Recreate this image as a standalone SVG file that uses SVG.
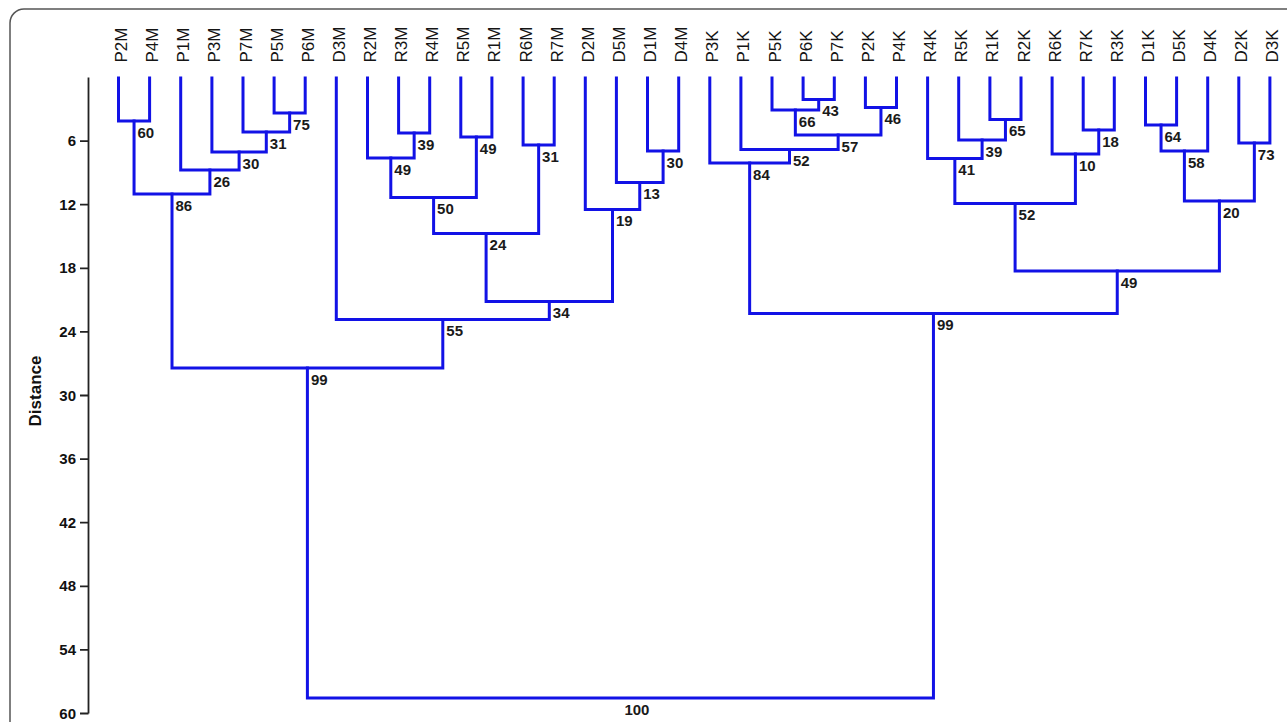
<svg xmlns="http://www.w3.org/2000/svg" width="1287" height="722" viewBox="0 0 1287 722">
<style>
.leaf{font-family:"Liberation Sans",Arial,sans-serif;font-size:17px;fill:#151515}
.bs{font-family:"Liberation Sans",Arial,sans-serif;font-size:15px;font-weight:bold;fill:#1a1a1a}
.tk{font-family:"Liberation Sans",Arial,sans-serif;font-size:15px;font-weight:bold;fill:#111;text-anchor:end}
.br{fill:none;stroke:#1212e6;stroke-width:3;stroke-linejoin:miter;stroke-linecap:square}
.ax{fill:none;stroke:#222;stroke-width:1.8}
</style>
<rect x="0" y="0" width="1287" height="722" fill="#fff"/>
<path d="M10,730 V23 A14,14 0 0 1 24,9 H1295" fill="none" stroke="#555" stroke-width="1.5"/>
<g id="axis">
<path class="ax" d="M88.5,77.5 V713.5 M80,141.1 H88.5 M80,204.7 H88.5 M80,268.3 H88.5 M80,331.9 H88.5 M80,395.5 H88.5 M80,459.1 H88.5 M80,522.7 H88.5 M80,586.3 H88.5 M80,649.9 H88.5 M80,713.5 H88.5"/>
<text class="tk" x="76" y="146.1">6</text>
<text class="tk" x="76" y="209.7">12</text>
<text class="tk" x="76" y="273.3">18</text>
<text class="tk" x="76" y="336.9">24</text>
<text class="tk" x="76" y="400.5">30</text>
<text class="tk" x="76" y="464.1">36</text>
<text class="tk" x="76" y="527.7">42</text>
<text class="tk" x="76" y="591.3">48</text>
<text class="tk" x="76" y="654.9">54</text>
<text class="tk" x="76" y="718.5">60</text>
<text transform="translate(40.5,391) rotate(-90)" text-anchor="middle" style="font-family:'Liberation Sans',Arial,sans-serif;font-size:17px;font-weight:bold;fill:#111">Distance</text>
</g>
<g id="connectors" class="br">
<path d="M118.5,78 V121 H149.6 V78"/>
<path d="M274.1,78 V113 H305.2 V78"/>
<path d="M243,78 V132 H289.65 V113"/>
<path d="M211.9,78 V152 H266.3 V132"/>
<path d="M180.7,78 V170 H239.1 V152"/>
<path d="M134.05,121 V194 H209.9 V170"/>
<path d="M398.6,78 V133 H429.7 V78"/>
<path d="M367.5,78 V158 H414.15 V133"/>
<path d="M460.8,78 V137 H491.9 V78"/>
<path d="M390.8,158 V197.5 H476.35 V137"/>
<path d="M523.1,78 V145 H554.2 V78"/>
<path d="M433.6,197.5 V233.5 H538.65 V145"/>
<path d="M647.5,78 V151 H678.7 V78"/>
<path d="M616.4,78 V182.5 H663.1 V151"/>
<path d="M585.3,78 V209.5 H639.75 V182.5"/>
<path d="M486.1,233.5 V301.5 H612.5 V209.5"/>
<path d="M336.3,78 V319.5 H549.3 V301.5"/>
<path d="M172,194 V368 H442.8 V319.5"/>
<path d="M803.1,78 V99.5 H834.3 V78"/>
<path d="M772,78 V110 H818.7 V99.5"/>
<path d="M865.4,78 V107.5 H896.5 V78"/>
<path d="M795.35,110 V135 H880.95 V107.5"/>
<path d="M740.9,78 V149.5 H838.15 V135"/>
<path d="M709.8,78 V163 H789.5 V149.5"/>
<path d="M989.9,78 V119.5 H1021 V78"/>
<path d="M958.7,78 V140 H1005.45 V119.5"/>
<path d="M927.6,78 V158.5 H982.1 V140"/>
<path d="M1083.2,78 V130 H1114.3 V78"/>
<path d="M1052.1,78 V154 H1098.75 V130"/>
<path d="M954.85,158.5 V203.5 H1075.4 V154"/>
<path d="M1145.5,78 V125 H1176.6 V78"/>
<path d="M1161.05,125 V151 H1207.7 V78"/>
<path d="M1238.8,78 V143 H1269.9 V78"/>
<path d="M1184.4,151 V201 H1254.35 V143"/>
<path d="M1015.1,203.5 V271 H1219.4 V201"/>
<path d="M749.65,163 V313.5 H1117.25 V271"/>
<path d="M307.4,368 V698 H933.45 V313.5"/>
</g>
<g id="leaves" class="leaf">
<g id="leaf-P2M"><text transform="translate(127,62.5) rotate(-90)">P2M</text></g>
<g id="leaf-P4M"><text transform="translate(158.1,62.5) rotate(-90)">P4M</text></g>
<g id="leaf-P1M"><text transform="translate(189.2,62.5) rotate(-90)">P1M</text></g>
<g id="leaf-P3M"><text transform="translate(220.4,62.5) rotate(-90)">P3M</text></g>
<g id="leaf-P7M"><text transform="translate(251.5,62.5) rotate(-90)">P7M</text></g>
<g id="leaf-P5M"><text transform="translate(282.6,62.5) rotate(-90)">P5M</text></g>
<g id="leaf-P6M"><text transform="translate(313.7,62.5) rotate(-90)">P6M</text></g>
<g id="leaf-D3M"><text transform="translate(344.8,62.5) rotate(-90)">D3M</text></g>
<g id="leaf-R2M"><text transform="translate(376,62.5) rotate(-90)">R2M</text></g>
<g id="leaf-R3M"><text transform="translate(407.1,62.5) rotate(-90)">R3M</text></g>
<g id="leaf-R4M"><text transform="translate(438.2,62.5) rotate(-90)">R4M</text></g>
<g id="leaf-R5M"><text transform="translate(469.3,62.5) rotate(-90)">R5M</text></g>
<g id="leaf-R1M"><text transform="translate(500.4,62.5) rotate(-90)">R1M</text></g>
<g id="leaf-R6M"><text transform="translate(531.6,62.5) rotate(-90)">R6M</text></g>
<g id="leaf-R7M"><text transform="translate(562.7,62.5) rotate(-90)">R7M</text></g>
<g id="leaf-D2M"><text transform="translate(593.8,62.5) rotate(-90)">D2M</text></g>
<g id="leaf-D5M"><text transform="translate(624.9,62.5) rotate(-90)">D5M</text></g>
<g id="leaf-D1M"><text transform="translate(656,62.5) rotate(-90)">D1M</text></g>
<g id="leaf-D4M"><text transform="translate(687.2,62.5) rotate(-90)">D4M</text></g>
<g id="leaf-P3K"><text transform="translate(718.3,62.5) rotate(-90)">P3K</text></g>
<g id="leaf-P1K"><text transform="translate(749.4,62.5) rotate(-90)">P1K</text></g>
<g id="leaf-P5K"><text transform="translate(780.5,62.5) rotate(-90)">P5K</text></g>
<g id="leaf-P6K"><text transform="translate(811.6,62.5) rotate(-90)">P6K</text></g>
<g id="leaf-P7K"><text transform="translate(842.8,62.5) rotate(-90)">P7K</text></g>
<g id="leaf-P2K"><text transform="translate(873.9,62.5) rotate(-90)">P2K</text></g>
<g id="leaf-P4K"><text transform="translate(905,62.5) rotate(-90)">P4K</text></g>
<g id="leaf-R4K"><text transform="translate(936.1,62.5) rotate(-90)">R4K</text></g>
<g id="leaf-R5K"><text transform="translate(967.2,62.5) rotate(-90)">R5K</text></g>
<g id="leaf-R1K"><text transform="translate(998.4,62.5) rotate(-90)">R1K</text></g>
<g id="leaf-R2K"><text transform="translate(1029.5,62.5) rotate(-90)">R2K</text></g>
<g id="leaf-R6K"><text transform="translate(1060.6,62.5) rotate(-90)">R6K</text></g>
<g id="leaf-R7K"><text transform="translate(1091.7,62.5) rotate(-90)">R7K</text></g>
<g id="leaf-R3K"><text transform="translate(1122.8,62.5) rotate(-90)">R3K</text></g>
<g id="leaf-D1K"><text transform="translate(1154,62.5) rotate(-90)">D1K</text></g>
<g id="leaf-D5K"><text transform="translate(1185.1,62.5) rotate(-90)">D5K</text></g>
<g id="leaf-D4K"><text transform="translate(1216.2,62.5) rotate(-90)">D4K</text></g>
<g id="leaf-D2K"><text transform="translate(1247.3,62.5) rotate(-90)">D2K</text></g>
<g id="leaf-D3K"><text transform="translate(1278.4,62.5) rotate(-90)">D3K</text></g>
</g>
<g id="supports" class="bs">
<g id="n60"><text x="137.5" y="137.5">60</text></g>
<g id="n75"><text x="293.1" y="129.5">75</text></g>
<g id="n31a"><text x="269.8" y="148.5">31</text></g>
<g id="n30a"><text x="242.6" y="168.5">30</text></g>
<g id="n26"><text x="213.4" y="186.5">26</text></g>
<g id="n86"><text x="175.5" y="210.5">86</text></g>
<g id="n39a"><text x="417.6" y="149.5">39</text></g>
<g id="n49a"><text x="394.3" y="174.5">49</text></g>
<g id="n49b"><text x="479.8" y="153.5">49</text></g>
<g id="n50"><text x="437.1" y="214">50</text></g>
<g id="n31b"><text x="542.1" y="161.5">31</text></g>
<g id="n24"><text x="489.6" y="250">24</text></g>
<g id="n30b"><text x="666.6" y="167.5">30</text></g>
<g id="n13"><text x="643.2" y="199">13</text></g>
<g id="n19"><text x="616" y="226">19</text></g>
<g id="n34"><text x="552.8" y="318">34</text></g>
<g id="n55"><text x="446.3" y="336">55</text></g>
<g id="n99a"><text x="310.9" y="384.5">99</text></g>
<g id="n43"><text x="822.2" y="116">43</text></g>
<g id="n66"><text x="798.8" y="126.5">66</text></g>
<g id="n46"><text x="884.4" y="124">46</text></g>
<g id="n57"><text x="841.6" y="151.5">57</text></g>
<g id="n52a"><text x="793" y="166">52</text></g>
<g id="n84"><text x="753.1" y="179.5">84</text></g>
<g id="n65"><text x="1008.9" y="136">65</text></g>
<g id="n39b"><text x="985.6" y="156.5">39</text></g>
<g id="n41"><text x="958.3" y="175">41</text></g>
<g id="n18"><text x="1102.2" y="146.5">18</text></g>
<g id="n10"><text x="1078.9" y="170.5">10</text></g>
<g id="n52b"><text x="1018.6" y="220">52</text></g>
<g id="n64"><text x="1164.5" y="141.5">64</text></g>
<g id="n58"><text x="1187.9" y="167.5">58</text></g>
<g id="n73"><text x="1257.8" y="159.5">73</text></g>
<g id="n20"><text x="1222.9" y="217.5">20</text></g>
<g id="n49c"><text x="1120.7" y="287.5">49</text></g>
<g id="n99b"><text x="936.9" y="330">99</text></g>
<g id="n100"><text x="624.4" y="714.5">100</text></g>
</g>
</svg>
